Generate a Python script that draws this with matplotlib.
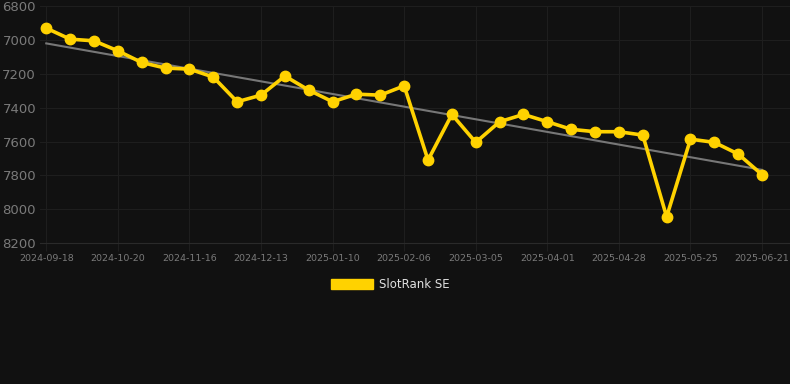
import numpy as np
import matplotlib
matplotlib.use("Agg")
import matplotlib.pyplot as plt

# weekly rank values (lower rank number = better, axis inverted)
ranks = [6930, 6995, 7005, 7064, 7133, 7166, 7172, 7219, 7365, 7326,
         7213, 7296, 7365, 7320, 7326, 7271, 7710, 7440, 7605, 7483,
         7440, 7483, 7528, 7542, 7542, 7562, 8045, 7586, 7605, 7674, 7796]
tick_labels = ["2024-09-18", "2024-10-20", "2024-11-16", "2024-12-13",
               "2025-01-10", "2025-02-06", "2025-03-05", "2025-04-01",
               "2025-04-28", "2025-05-25", "2025-06-21"]
series_name = "SlotRank SE"

bg = "#111111"
gold = "#FFD200"

x = np.arange(len(ranks))
slope, intercept = np.polyfit(x, ranks, 1)

fig = plt.figure(figsize=(7.9, 3.84), dpi=100, facecolor=bg)
ax = fig.add_axes([0.051, 0.367, 0.949, 0.617], facecolor=bg)

ax.plot(x, slope * x + intercept, color="#777777", lw=1.5, zorder=2)
ax.plot(x, ranks, color=gold, lw=2.6, marker="o", ms=7.5, zorder=3,
        label=series_name)

ax.set_ylim(8200, 6800)
ax.set_yticks(range(6800, 8201, 200))
ax.set_xlim(-0.25, 31.17)
ax.set_xticks(x[::3])
ax.set_xticklabels(tick_labels)

ax.grid(True, color="#1e1e1e", lw=0.8)
ax.set_axisbelow(True)
for side in ["top", "right", "left"]:
    ax.spines[side].set_visible(False)
ax.spines["bottom"].set_color("#2a2a2a")
ax.tick_params(axis="y", length=0, colors="#7a7a7a", labelsize=9.5, pad=3)
ax.tick_params(axis="x", length=6, color="#1e1e1e", colors="#7a7a7a",
               labelsize=6.8, pad=2)

leg = fig.legend(handles=[plt.Rectangle((0, 0), 1, 1, color=gold)],
                 labels=[series_name], loc="center",
                 bbox_to_anchor=(0.494, 0.259), frameon=False,
                 handlelength=3.5, handleheight=1.0, fontsize=8.5,
                 labelcolor="#e0e0e0", handletextpad=0.5)

fig.savefig("out.png", dpi=100, facecolor=bg)
